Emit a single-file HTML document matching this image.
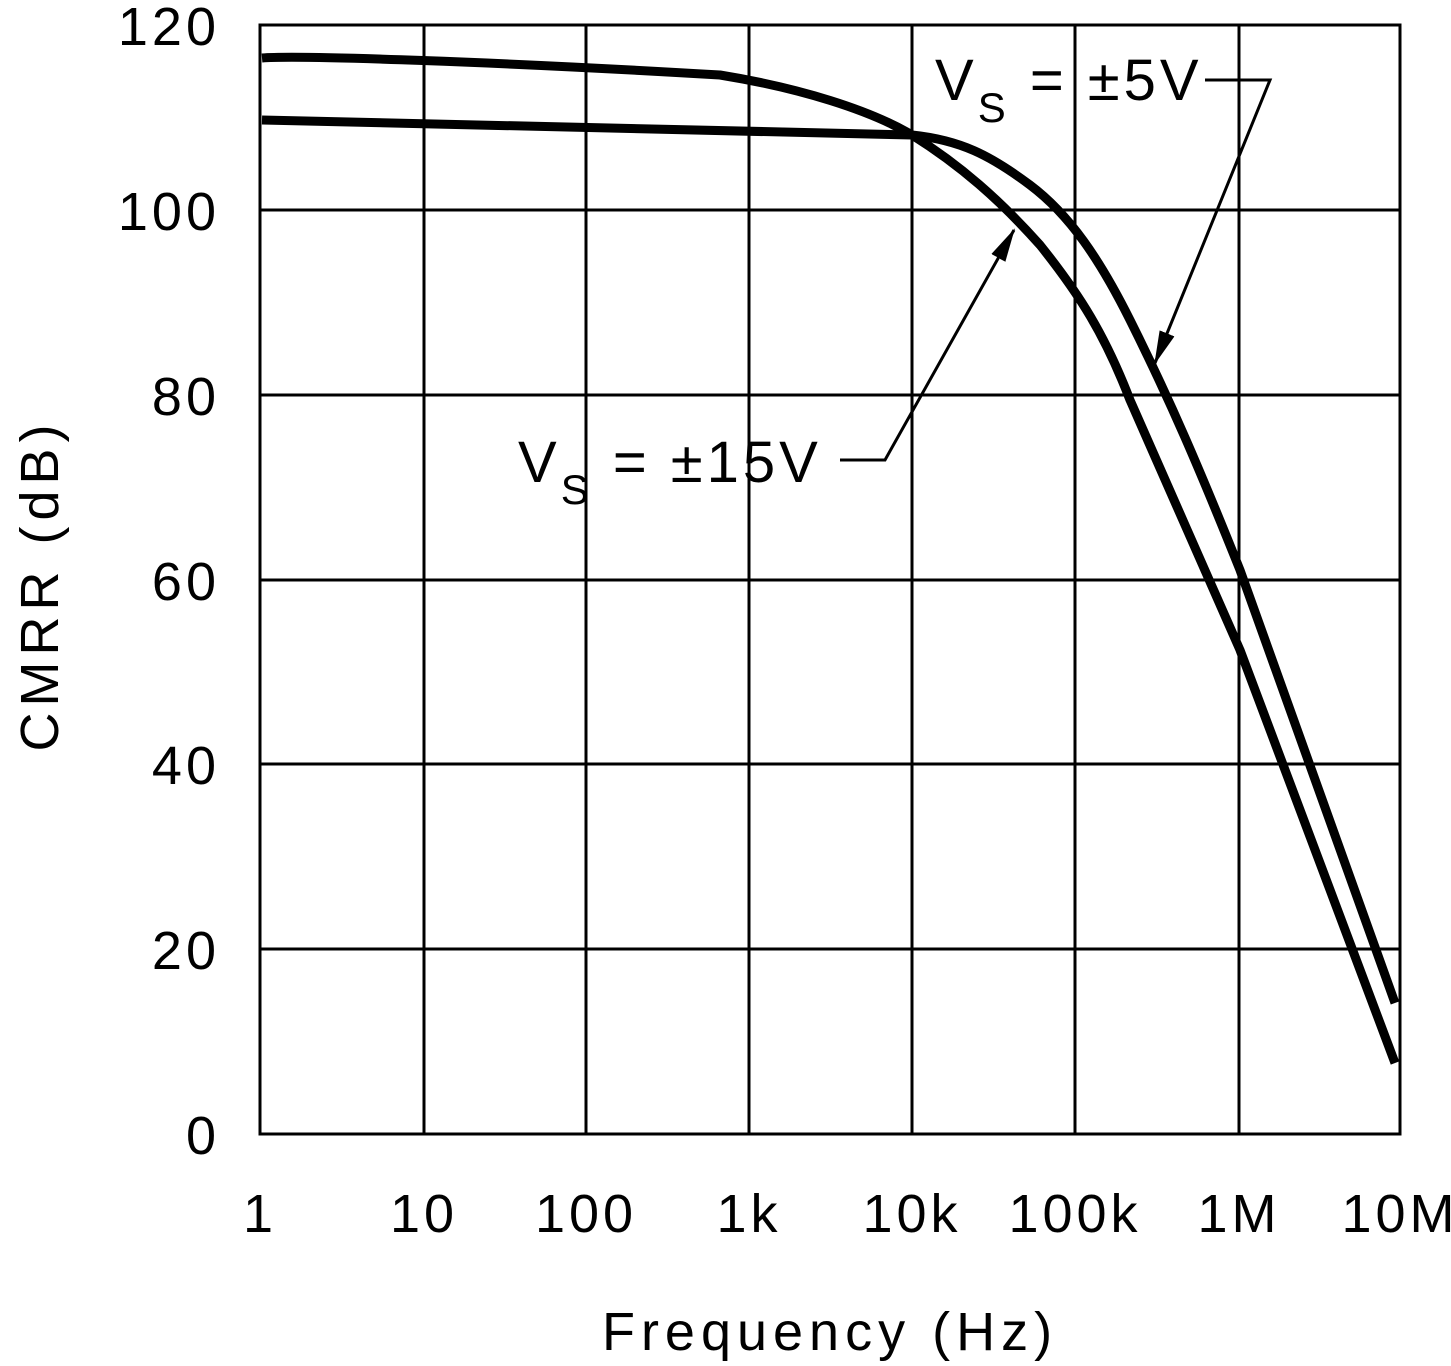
<!DOCTYPE html>
<html><head><style>body{margin:0;background:#fff}svg{display:block}text{font-family:"Liberation Sans",sans-serif;fill:#000}</style></head><body>
<svg width="1451" height="1366" viewBox="0 0 1451 1366" xmlns="http://www.w3.org/2000/svg">
<defs><marker id="ar" markerWidth="34" markerHeight="16" refX="32" refY="8" orient="auto" markerUnits="userSpaceOnUse" viewBox="0 0 34 16"><path d="M0,0 L34,8 L0,16z"/></marker></defs>
<g stroke="#000" stroke-width="3" fill="none">
<rect x="260" y="25" width="1140" height="1109"/>
<path d="M424 25V1134M586 25V1134M749 25V1134M912 25V1134M1075 25V1134M1239 25V1134M260 210H1400M260 395H1400M260 580H1400M260 764H1400M260 949H1400"/>
</g>
<g stroke="#000" stroke-width="9" fill="none" stroke-linejoin="round">
<path d="M262,120 C450,124 650,130 912,135 C960,140 990,155 1030,185 C1070,215 1100,260 1130,320 C1170,400 1200,470 1240,570 L1395,1003"/>
<path d="M262,58 C300,55 500,62 720,75 C800,88 870,110 912,135 C960,165 1000,200 1040,245 C1080,295 1105,335 1130,400 C1170,490 1200,560 1240,650 L1395,1063"/>
</g>
<g font-size="54" text-anchor="end" letter-spacing="4">
<text x="220" y="45">120</text><text x="220" y="230">100</text><text x="220" y="415">80</text><text x="220" y="600">60</text><text x="220" y="784">40</text><text x="220" y="969">20</text><text x="220" y="1154">0</text>
</g>
<g font-size="54" text-anchor="middle" letter-spacing="4">
<text x="260" y="1232">1</text><text x="424" y="1232">10</text><text x="586" y="1232">100</text><text x="749" y="1232">1k</text><text x="912" y="1232">10k</text><text x="1075" y="1232">100k</text><text x="1239" y="1232">1M</text><text x="1400" y="1232">10M</text>
<text x="830" y="1350" letter-spacing="6">Frequency (Hz)</text>
<text transform="translate(58,585) rotate(-90)" letter-spacing="6">CMRR (dB)</text>
</g>
<g font-size="58" letter-spacing="4">
<text x="935" y="100">V<tspan font-size="42" dy="22">S</tspan><tspan dy="-22"> = ±5V</tspan></text>
<text x="518" y="482">V<tspan font-size="42" dy="22">S</tspan><tspan dy="-22"> = ±15V</tspan></text>
</g>
<g stroke="#000" stroke-width="3" fill="none">
<path d="M1205,80 H1270 L1155,363" marker-end="url(#ar)"/>
<path d="M840,460 H885 L1014,230" marker-end="url(#ar)"/>
</g>
</svg>
</body></html>
